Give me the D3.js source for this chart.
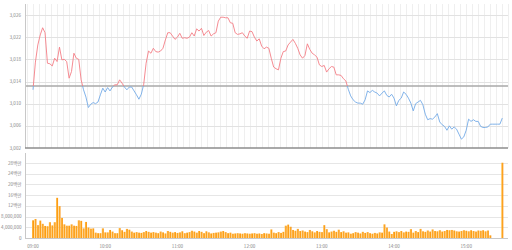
<!DOCTYPE html>
<html>
<head>
<meta charset="utf-8">
<script src="https://cdn.jsdelivr.net/npm/d3@7/dist/d3.min.js"></script>
<style>
  html, body { margin: 0; padding: 0; background: #fff; }
  svg { display: block; font-family: 'Noto Sans CJK KR', 'Noto Sans', sans-serif; }
</style>
</head>
<body>
<svg id="chart" width="512" height="250"></svg>
<script>
// previous close (reference line)
const prevClose = 3013.2;

// index value every 2 minutes from 09:00 to 15:30
const prices = [
  3012.5, 3017.5, 3020.6, 3022.4, 3023.7, 3022.8, 3017.3, 3017.2, 3016.8, 3018.2,
  3017.6, 3020.2, 3017.9, 3018.0, 3017.6, 3014.6, 3015.8, 3019.1, 3018.2, 3018.0,
  3014.3, 3012.5, 3011.2, 3009.3, 3009.9, 3010.2, 3010.0, 3010.3, 3011.6, 3012.8,
  3012.1, 3012.9, 3012.3, 3013.0, 3013.4, 3013.4, 3014.3, 3013.7, 3013.0, 3012.5,
  3013.0, 3013.0, 3012.3, 3011.6, 3010.8, 3011.7, 3013.5, 3017.3, 3019.5, 3019.1,
  3020.0, 3019.4, 3019.3, 3019.5, 3020.0, 3021.5, 3022.8, 3022.8, 3022.2, 3021.6,
  3022.0, 3022.7, 3021.8, 3021.9, 3021.8, 3022.0, 3022.8, 3022.2, 3023.5, 3023.1,
  3023.6, 3022.3, 3022.9, 3023.2, 3022.2, 3022.6, 3022.8, 3024.9, 3025.6, 3025.6,
  3025.5, 3025.5, 3024.6, 3024.5, 3022.8, 3022.5, 3022.6, 3022.8, 3022.2, 3021.8,
  3023.1, 3023.0, 3022.0, 3021.3, 3021.7, 3020.4, 3019.9, 3020.2, 3020.0, 3018.2,
  3016.6, 3016.3, 3016.1, 3018.2, 3019.4, 3019.5, 3020.6, 3021.1, 3021.6, 3020.9,
  3020.0, 3018.8, 3018.2, 3018.7, 3020.8, 3019.8, 3019.1, 3018.8, 3018.4, 3017.0,
  3016.7, 3016.9, 3015.7, 3016.3, 3016.7, 3016.6, 3015.2, 3015.2, 3015.1, 3014.5,
  3014.1, 3012.6, 3011.4, 3010.7, 3010.3, 3010.1, 3010.1, 3009.9, 3010.7, 3012.3,
  3012.0, 3012.4, 3012.1, 3011.9, 3011.4, 3011.9, 3012.3, 3011.5, 3011.2, 3011.7,
  3011.0, 3009.6, 3010.6, 3011.0, 3012.1, 3011.7, 3011.0, 3010.1, 3008.7, 3010.0,
  3010.3, 3010.6, 3009.8, 3008.1, 3007.1, 3007.3, 3007.2, 3007.6, 3008.2, 3006.7,
  3006.2, 3005.9, 3005.2, 3006.0, 3005.4, 3005.8, 3005.4, 3004.5, 3003.6, 3004.0,
  3005.2, 3007.2, 3006.8, 3007.1, 3006.8, 3006.8, 3005.9, 3005.7, 3005.7, 3005.8,
  3006.3, 3006.3, 3006.3, 3006.3, 3006.3, 3007.4
];

// volume in millions, 2-minute bars from 09:00 to 15:20
const volumes = [
  6.6, 7.1, 4.8, 6.5, 5.3, 4.5, 4.4, 5.9, 4.7, 5.9,
  15.0, 11.9, 7.5, 5.1, 4.6, 4.6, 5.1, 4.6, 4.5, 6.6,
  6.4, 3.6, 6.0, 3.9, 3.5, 3.6, 2.0, 1.8, 1.8, 3.6,
  2.1, 2.1, 3.0, 2.4, 1.8, 1.8, 3.7, 2.9, 2.3, 3.4,
  3.1, 2.4, 2.0, 2.2, 2.0, 1.9, 2.2, 2.6, 2.3, 2.0,
  2.2, 2.0, 1.8, 2.4, 2.1, 1.7, 2.6, 2.3, 2.0, 2.2,
  1.9, 2.1, 2.5, 1.8, 2.0, 2.2, 2.7, 2.4, 2.0, 2.6,
  2.3, 1.8, 2.5, 2.1, 1.7, 1.9, 2.0, 2.1, 2.4, 2.6,
  2.2, 1.8, 2.0, 1.6, 1.7, 1.8, 1.7, 1.6, 1.8, 1.7,
  1.6, 1.7, 1.8, 1.6, 1.7, 1.5, 1.8, 1.7, 1.6, 3.2,
  2.0, 1.8, 2.2, 1.9, 2.3, 4.6, 5.0, 4.2, 3.0, 2.7,
  3.4, 2.6, 2.8, 2.4, 2.2, 3.0, 2.5, 2.1, 2.6, 2.3,
  2.2, 4.8, 3.3, 2.1, 2.4, 2.7, 2.3, 3.1, 2.2, 2.5,
  2.0, 2.1, 1.6, 1.8, 2.2, 2.0, 1.7, 2.3, 1.9, 2.2,
  1.8, 1.6, 1.9, 1.7, 2.1, 2.0, 5.1, 3.9, 2.4, 1.5,
  2.3, 2.5, 2.2, 2.6, 2.1, 2.4, 2.3, 3.3, 2.0, 2.6,
  2.2, 3.4, 2.5, 2.3, 2.8, 2.4, 3.2, 2.6, 2.5, 2.9,
  2.4, 2.6, 3.0, 2.9, 3.0, 2.8, 2.5, 2.4, 2.6, 2.9,
  2.7, 2.5, 2.9, 2.6, 2.4, 2.8, 2.7, 2.9, 2.5, 2.8, 1.0
];
// closing auction volume at 15:30 (millions)
const closeTime = '15:30';
const closeVolume = 28.1;

const priceTicks = [3002, 3006, 3010, 3014, 3018, 3022, 3026];
const volumeTicks = [0, 4, 8, 12, 16, 20, 24, 28];
const volumeTickLabels = ['0', '4,000,000', '8,000,000', '12백만', '16백만', '20백만', '24백만', '28백만'];
const hourTicks = ['09:00', '10:00', '11:00', '12:00', '13:00', '14:00', '15:00'];

const parse = d3.timeParse('%H:%M');
const start = parse('09:00');

const plotLeft = 25, plotRight = 508;
const topTop = 4, topBottom = 148;
const volTop = 153, volBottom = 238;

const x = d3.scaleTime()
  .domain([start, parse(closeTime)])
  .range([33, 502.3]);

const yPrice = d3.scaleLinear().domain([3002, 3026]).range([topBottom, 15]);
const yVol = d3.scaleLinear().domain([0, 28]).range([volBottom, 163]);

const svg = d3.select('#chart');
const defs = svg.append('defs');

// vertical 5-minute grid in the price panel
const gridTimes = d3.timeMinute.every(5)
  .range(parse('08:50'), parse('15:40'))
  .filter(t => x(t) >= plotLeft + 1 && x(t) <= plotRight + 0.5);

svg.append('g')
  .selectAll('line')
  .data(gridTimes)
  .enter().append('line')
  .attr('x1', d => Math.round(x(d)) + 0.5)
  .attr('x2', d => Math.round(x(d)) + 0.5)
  .attr('y1', topTop)
  .attr('y2', topBottom)
  .attr('stroke', '#efefef')
  .attr('stroke-width', 1);

// horizontal price grid
svg.append('g')
  .selectAll('line')
  .data(priceTicks.filter(d => d !== 3002))
  .enter().append('line')
  .attr('x1', plotLeft)
  .attr('x2', plotRight)
  .attr('y1', d => Math.round(yPrice(d)) + 0.5)
  .attr('y2', d => Math.round(yPrice(d)) + 0.5)
  .attr('stroke', '#e2e2e2');

// price labels
svg.append('g')
  .attr('font-size', 4.6)
  .attr('fill', '#888')
  .attr('text-anchor', 'end')
  .selectAll('text')
  .data(priceTicks)
  .enter().append('text')
  .attr('x', 21)
  .attr('y', d => yPrice(d))
  .attr('dy', '0.35em')
  .text(d => d3.format(',')(d));

// reference line (previous close)
svg.append('line')
  .attr('x1', plotLeft)
  .attr('x2', plotRight)
  .attr('y1', yPrice(prevClose))
  .attr('y2', yPrice(prevClose))
  .attr('stroke', '#a8a8a8')
  .attr('stroke-width', 1.6);

// axes lines of price panel
svg.append('line')
  .attr('x1', plotLeft + 0.5).attr('x2', plotLeft + 0.5)
  .attr('y1', topTop).attr('y2', topBottom)
  .attr('stroke', '#c8c8c8');
svg.append('line')
  .attr('x1', plotLeft).attr('x2', plotRight)
  .attr('y1', topBottom).attr('y2', topBottom)
  .attr('stroke', '#8c8c8c')
  .attr('stroke-width', 1.5);

// price line, red above the reference, blue below
defs.append('clipPath').attr('id', 'clip-up')
  .append('rect')
  .attr('x', plotLeft).attr('y', topTop)
  .attr('width', plotRight - plotLeft)
  .attr('height', yPrice(prevClose) - topTop);
defs.append('clipPath').attr('id', 'clip-down')
  .append('rect')
  .attr('x', plotLeft).attr('y', yPrice(prevClose))
  .attr('width', plotRight - plotLeft)
  .attr('height', topBottom - yPrice(prevClose));

const line = d3.line()
  .x((d, i) => x(d3.timeMinute.offset(start, i * 2)))
  .y(d => yPrice(d));

svg.append('path')
  .datum(prices)
  .attr('clip-path', 'url(#clip-up)')
  .attr('fill', 'none')
  .attr('stroke', '#f47e86')
  .attr('stroke-width', 0.9)
  .attr('d', line);

svg.append('path')
  .datum(prices)
  .attr('clip-path', 'url(#clip-down)')
  .attr('fill', 'none')
  .attr('stroke', '#74aae6')
  .attr('stroke-width', 0.9)
  .attr('d', line);

// volume panel grid
svg.append('g')
  .selectAll('line')
  .data(volumeTicks.filter(d => d !== 0))
  .enter().append('line')
  .attr('x1', plotLeft)
  .attr('x2', plotRight)
  .attr('y1', d => Math.round(yVol(d)) + 0.5)
  .attr('y2', d => Math.round(yVol(d)) + 0.5)
  .attr('stroke', '#e6e6e6');

svg.append('g')
  .attr('font-size', 4.6)
  .attr('fill', '#888')
  .attr('text-anchor', 'end')
  .selectAll('text')
  .data(volumeTicks)
  .enter().append('text')
  .attr('x', 21.5)
  .attr('y', d => yVol(d))
  .attr('dy', '0.35em')
  .text((d, i) => volumeTickLabels[i]);

// volume bars
const grad = defs.append('linearGradient')
  .attr('id', 'bar-grad')
  .attr('x1', '0%').attr('x2', '100%')
  .attr('y1', '0%').attr('y2', '0%');
grad.append('stop').attr('offset', '0%').attr('stop-color', '#ffc14d');
grad.append('stop').attr('offset', '100%').attr('stop-color', '#fb8c00');

const barData = volumes.map((v, i) => ({t: d3.timeMinute.offset(start, i * 2), v}))
  .concat([{t: parse(closeTime), v: closeVolume}]);

const barW = 2;
svg.append('g')
  .selectAll('rect')
  .data(barData)
  .enter().append('rect')
  .attr('x', d => x(d.t) - barW / 2)
  .attr('y', d => yVol(d.v))
  .attr('width', barW)
  .attr('height', d => volBottom - yVol(d.v))
  .attr('fill', 'url(#bar-grad)');

// volume axes
svg.append('line')
  .attr('x1', plotLeft + 0.5).attr('x2', plotLeft + 0.5)
  .attr('y1', volTop).attr('y2', volBottom)
  .attr('stroke', '#c8c8c8');
svg.append('line')
  .attr('x1', plotLeft).attr('x2', plotRight)
  .attr('y1', volBottom + 0.5).attr('y2', volBottom + 0.5)
  .attr('stroke', '#c8c8c8');

// time labels
svg.append('g')
  .attr('font-size', 4.6)
  .attr('fill', '#888')
  .attr('text-anchor', 'middle')
  .selectAll('text')
  .data(hourTicks)
  .enter().append('text')
  .attr('x', d => x(parse(d)))
  .attr('y', 246)
  .attr('dy', '0.35em')
  .text(d => d);
</script>
</body>
</html>
